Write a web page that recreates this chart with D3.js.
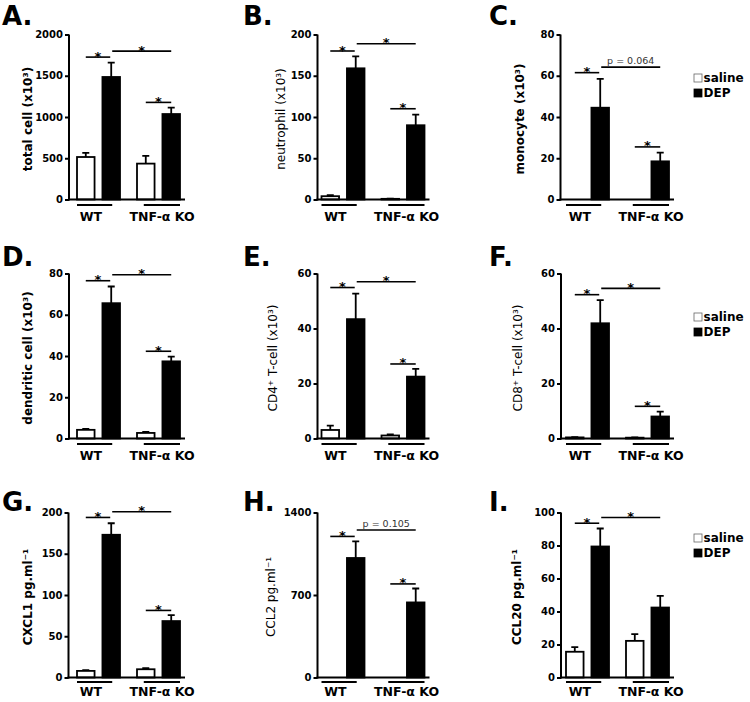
<!DOCTYPE html>
<html>
<head>
<meta charset="utf-8">
<script src="https://cdn.jsdelivr.net/npm/d3@7"></script>
<style>
  html, body { margin: 0; padding: 0; background: #fff; }
  svg { display: block; font-family: "DejaVu Sans", Verdana, sans-serif; }
</style>
</head>
<body>
<svg id="fig" width="750" height="702"></svg>
<script>
// ---- data ----
const groups = ["WT", "TNF-α KO"];
const treatments = ["saline", "DEP"];
const panelLetters = ["A.", "B.", "C.", "D.", "E.", "F.", "G.", "H.", "I."];
const yLabels = [
  "total cell (x10³)", "neutrophil (x10³)", "monocyte (x10³)",
  "dendritic cell (x10³)", "CD4⁺ T-cell (x10³)", "CD8⁺ T-cell (x10³)",
  "CXCL1 pg.ml⁻¹", "CCL2 pg.ml⁻¹", "CCL20 pg.ml⁻¹"
];
const yLabelBold = [true, false, true, true, false, false, true, false, true];
const yMax = [2000, 200, 80, 80, 60, 60, 200, 1400, 100];
const yTicks = [
  [0, 500, 1000, 1500, 2000], [0, 50, 100, 150, 200], [0, 20, 40, 60, 80],
  [0, 20, 40, 60, 80], [0, 20, 40, 60], [0, 20, 40, 60],
  [0, 50, 100, 150, 200], [0, 700, 1400], [0, 20, 40, 60, 80, 100]
];
// order: WT saline, WT DEP, KO saline, KO DEP
const means = [
  [515, 1485, 435, 1036], [4, 159, 0.8, 90], [0, 44.5, 0, 18.5],
  [4.2, 65.6, 2.7, 37.4], [3.1, 43.4, 1.1, 22.5], [0.4, 41.9, 0.3, 8],
  [8, 173, 10, 68.4], [0, 1014, 0, 637], [15.6, 79.4, 22.2, 42.4]
];
const sems = [
  [50, 175, 93, 77], [1.2, 14.4, 0.3, 12.8], [0, 14, 0, 4.2],
  [0.5, 8.1, 0.5, 2.3], [1.6, 9.3, 0.35, 2.8], [0.1, 8.4, 0.1, 1.8],
  [0.9, 14, 1.3, 7.3], [0, 141, 0, 118], [2.8, 10.9, 4.1, 7.1]
];
// significance lines (data units)
const sigWT    = [1726, 180, 61.5, 76.5, 54.9, 52.3, 194, 1197, 93.5];
const sigCross = [1798, 188.7, 64.2, 79.4, 57, 54.6, 201, 1251, 97];
const crossLabels = ["*", "*", "p = 0.064", "*", "*", "*", "*", "p = 0.105", "*"];
const sigKO    = [1177, 110, 25.5, 42.3, 27.1, 11.7, 81.3, 794, null];

// ---- layout (pixels) ----
const COL_X = [0, 244.5, 489];
const ROW_Y = [0, 239, 478];
const AXIS_X   = [69, 317.5, 560.5, 69, 317.5, 561, 68.5, 317.5, 561];
const YLAB_X   = [28, 281, 520, 28, 272.5, 517.5, 28, 271, 517];
const LETTER_X = [2, 243, 489];
const LEGEND_Y = [71, 310, 531];   // top of saline row, panels C/F/I
const PLOT_TOP = 34.5, PLOT_H = 165, BAR_X0 = 77;

const svg = d3.select("#fig");

const gx = d3.scaleBand().domain(groups).range([0, 103]).paddingInner(17 / 60);
const tx = d3.scaleBand().domain(treatments).range([0, gx.bandwidth()]).paddingInner(0.31);

function barX(i) { return BAR_X0 + gx(groups[i >> 1]) + tx(treatments[i & 1]); }
function barC(i) { return barX(i) + tx.bandwidth() / 2; }

panelLetters.forEach((letter, p) => {
  const c = p % 3, r = Math.floor(p / 3);
  const ox = COL_X[c], oy = ROW_Y[r];
  const g = svg.append("g").attr("transform", `translate(${ox},${oy})`);
  const top = PLOT_TOP, bottom = PLOT_TOP + PLOT_H;
  const y = d3.scaleLinear().domain([0, yMax[p]]).range([bottom, top]);
  const ax = AXIS_X[p] - ox;

  // panel letter
  svg.append("text")
    .attr("x", LETTER_X[c]).attr("y", oy + (r === 0 ? 25 : r === 1 ? 27 : 33))
    .attr("font-size", 26).attr("font-weight", "bold")
    .text(letter);

  // y axis
  const yAxis = d3.axisLeft(y).tickValues(yTicks[p]).tickSize(4).tickSizeOuter(0).tickPadding(2)
    .tickFormat(d3.format("d"));
  const ag = g.append("g").attr("transform", `translate(${ax},0)`).call(yAxis);
  ag.select(".domain").attr("stroke-width", 2).attr("d", `M0,${top}V${bottom + 1}`);
  ag.selectAll(".tick line").attr("stroke-width", 2);
  ag.selectAll(".tick text").attr("font-size", 10).attr("font-weight", "bold")
    .attr("font-family", "DejaVu Sans").attr("fill", "#000");

  // y label
  g.append("text")
    .attr("transform", `translate(${YLAB_X[p] - ox},${(top + bottom) / 2 + 2}) rotate(-90)`)
    .attr("text-anchor", "middle").attr("dominant-baseline", "central")
    .attr("font-size", 12).attr("font-weight", yLabelBold[p] ? "bold" : "normal")
    .text(yLabels[p]);

  // bars
  const vals = means[p];
  g.selectAll("rect.bar").data(vals).join("rect")
    .attr("class", "bar")
    .attr("x", (d, i) => barX(i))
    .attr("y", d => y(d))
    .attr("width", tx.bandwidth())
    .attr("height", d => y(0) - y(d))
    .attr("fill", (d, i) => (i & 1) ? "#000" : "#fff")
    .attr("stroke", "#000").attr("stroke-width", 1.8);

  // error bars (upper only)
  vals.forEach((d, i) => {
    const e = sems[p][i];
    if (!e) return;
    const cx = barC(i);
    g.append("path")
      .attr("d", `M${cx},${y(d)}V${y(d + e)}M${cx - 3.5},${y(d + e)}H${cx + 3.5}`)
      .attr("stroke", "#000").attr("stroke-width", 1.8).attr("fill", "none");
  });

  // x axis line
  g.append("line")
    .attr("x1", ax - 1).attr("x2", barX(3) + tx.bandwidth() + 5)
    .attr("y1", y(0)).attr("y2", y(0))
    .attr("stroke", "#000").attr("stroke-width", 2);

  // group underlines and labels
  const uy = bottom + (r === 2 ? 4.5 : 5.5);
  const ly = bottom + (r === 2 ? 18 : 21);
  [[barX(0), barC(1) + 1], [barC(2) - 2, barX(3) + tx.bandwidth()]].forEach(([a, b]) => {
    g.append("line").attr("x1", a).attr("x2", b).attr("y1", uy).attr("y2", uy)
      .attr("stroke", "#000").attr("stroke-width", 1.8);
  });
  g.append("text").attr("x", barX(0) + 14).attr("y", ly)
    .attr("text-anchor", "middle").attr("font-size", 12.5).attr("font-weight", "bold").text(groups[0]);
  g.append("text").attr("x", barX(2) + 25).attr("y", ly)
    .attr("text-anchor", "middle").attr("font-size", 12.5).attr("font-weight", "bold").text(groups[1]);

  // significance
  function sig(x1, x2, v, label) {
    if (v == null) return;
    const yy = y(v);
    g.append("line").attr("x1", x1).attr("x2", x2).attr("y1", yy).attr("y2", yy)
      .attr("stroke", "#000").attr("stroke-width", 1.6);
    const star = label === "*";
    g.append("text").attr("x", (x1 + x2) / 2).attr("y", star ? yy + 3.5 : yy - 3)
      .attr("text-anchor", "middle")
      .attr("font-size", star ? 13 : 9.5)
      .attr("font-weight", star ? "bold" : "normal")
      .attr("fill", star ? "#000" : "#333")
      .text(label);
  }
  sig(barC(0), barC(1) - 1, sigWT[p], "*");
  sig(barC(1) + 1, barC(3), sigCross[p], crossLabels[p]);
  sig(barC(2), barC(3), sigKO[p], "*");

  // legend in right column
  if (c === 2) {
    const lx = 694 - ox, lyTop = LEGEND_Y[r] - oy;
    treatments.forEach((t, i) => {
      const yy = lyTop + i * 15;
      g.append("rect").attr("x", lx).attr("y", yy + 3).attr("width", 8).attr("height", 8)
        .attr("fill", i ? "#000" : "#fff").attr("stroke", i ? "#000" : "#666").attr("stroke-width", 0.8);
      g.append("text").attr("x", lx + 9.5).attr("y", yy + 10.5)
        .attr("font-size", 12).attr("font-weight", "bold").text(t);
    });
  }
});
</script>
</body>
</html>
